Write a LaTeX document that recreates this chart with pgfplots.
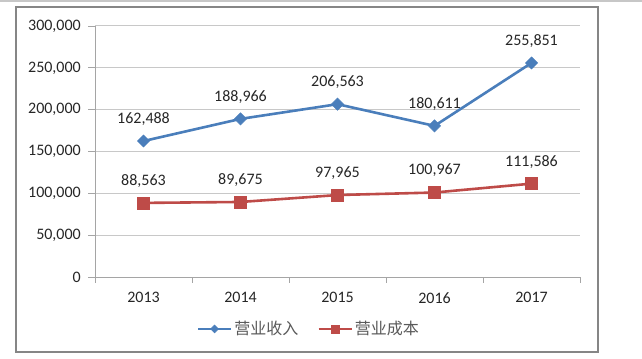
\documentclass[border=0pt]{standalone}
\usepackage{fontspec}
\setmainfont{Carlito}
\newfontfamily\cjk{Noto Sans CJK SC}
\usepackage{pgfplots}
\pgfplotsset{compat=1.18}
\definecolor{blueS}{RGB}{74,126,187}
\definecolor{redS}{RGB}{190,75,72}
\definecolor{gridc}{RGB}{200,200,200}
\definecolor{axc}{RGB}{165,165,165}
\definecolor{framec}{RGB}{134,134,134}
\definecolor{txt}{RGB}{38,38,38}
\definecolor{legtxt}{RGB}{89,89,89}
\begin{document}
\begin{tikzpicture}
\useasboundingbox (0,0) rectangle (642bp,359bp);
\draw[draw=black!22, line width=2bp] (0,358bp) -- (642bp,358bp);
\draw[framec, line width=1.2bp] (16bp,7bp) rectangle (598bp,352bp);
\begin{axis}[
 at={(95bp,82bp)}, anchor=south west,
 scale only axis, width=485bp, height=251bp,
 xmin=-0.5, xmax=4.5, ymin=0, ymax=300000,
 clip=false,
 font=\fontsize{16bp}{19bp}\selectfont,
 axis x line*=bottom, axis y line*=left,
 axis line style={axc, line width=0.9bp, -},
 xtick={0,1,2,3,4}, xticklabels={2013,2014,2015,2016,2017},
 minor xtick={-0.5,0.5,1.5,2.5,3.5,4.5},
 ytick={0,50000,...,300000},
 tick align=outside, major tick length=7bp, minor tick length=6bp,
 tick style={axc, line width=0.9bp},
 major x tick style={draw=none},
 ymajorgrids, grid style={gridc, line width=1bp},
 scaled y ticks=false,
 /pgf/number format/fixed, /pgf/number format/1000 sep={,},
 /pgf/number format/assume math mode=true,
 yticklabel style={anchor=east, inner sep=0pt, xshift=-7bp, text=txt},
 xticklabel style={anchor=north, inner sep=0pt, yshift=-8bp, text=txt},
 nodes near coords={\pgfmathprintnumber[fixed,precision=0,1000 sep={,},assume math mode=true]{\pgfplotspointmeta}},
 every node near coord/.append style={anchor=center, yshift=22bp, inner sep=0pt, text=txt},
 legend columns=2,
 legend style={at={(0.441,-0.207)}, anchor=center, draw=none, fill=none,
   nodes={inner sep=2bp, text=legtxt}, column sep=0bp,
   /tikz/every even column/.append style={column sep=17bp}},
 legend image code/.code={\draw[mark repeat=2,mark phase=2,#1, every mark/.append style={scale=0.65}] plot coordinates {(0bp,0bp) (16.5bp,0bp) (33bp,0bp)};},
]
\addplot[blueS, line width=2.6bp, mark=square*, mark size=4.3bp,
  mark options={rotate=45, fill=blueS, draw=blueS, line width=0.5bp}, point meta=y]
  coordinates {(0,162488) (1,188966) (2,206563) (3,180611) (4,255851)};
\addlegendentry{\cjk 营业收入}
\addplot[redS, line width=2.6bp, mark=square*, mark size=6bp,
  mark options={fill=redS, draw=redS, line width=0.5bp}, point meta=y]
  coordinates {(0,88563) (1,89675) (2,97965) (3,100967) (4,111586)};
\addlegendentry{\cjk 营业成本}
\end{axis}
\end{tikzpicture}
\end{document}
